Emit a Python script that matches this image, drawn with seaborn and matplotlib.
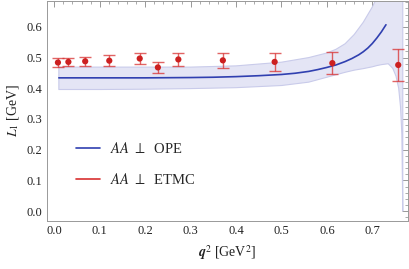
import numpy as np
import pandas as pd
import matplotlib
matplotlib.use("Agg")
import matplotlib.pyplot as plt
import seaborn as sns
from matplotlib.ticker import MultipleLocator, FormatStrFormatter

# ETMC lattice points
q2_etmc = [0.008, 0.031, 0.068, 0.121, 0.188, 0.228, 0.273, 0.371, 0.485, 0.612, 0.757]
l1_etmc = [0.484, 0.486, 0.488, 0.490, 0.497, 0.468, 0.494, 0.491, 0.486, 0.482, 0.476]
err_etmc = [0.014, 0.014, 0.015, 0.018, 0.018, 0.018, 0.020, 0.024, 0.029, 0.037, 0.051]

# OPE central curve
q2_ope = [0.01, 0.1, 0.2, 0.3, 0.35, 0.4, 0.45, 0.5, 0.53, 0.56, 0.58, 0.6, 0.62, 0.64,
          0.655, 0.67, 0.68, 0.69, 0.70, 0.71, 0.72, 0.73]
l1_ope = [0.434, 0.434, 0.434, 0.435, 0.436, 0.438, 0.441, 0.445, 0.449, 0.455, 0.461,
          0.468, 0.476, 0.487, 0.497, 0.509, 0.519, 0.531, 0.546, 0.564, 0.584, 0.607]

# OPE uncertainty band
q2_band = [0.01, 0.1, 0.2, 0.3, 0.4, 0.5, 0.56, 0.6, 0.62, 0.64, 0.66, 0.68, 0.70,
           0.71, 0.72, 0.735, 0.745, 0.752, 0.758, 0.762, 0.765, 0.767]
band_hi = [0.469, 0.469, 0.469, 0.469, 0.473, 0.485, 0.500, 0.515, 0.527, 0.545, 0.575,
           0.615, 0.665, 0.695, 0.73, 0.80, 0.88, 0.95, 1.0, 1.0, 1.0, 1.0]
band_lo = [0.396, 0.396, 0.397, 0.399, 0.402, 0.409, 0.420, 0.436, 0.444, 0.452, 0.459,
           0.464, 0.470, 0.474, 0.477, 0.480, 0.465, 0.440, 0.400, 0.340, 0.250, 0.0]

sns.set_style("white")
plt.rcParams["font.family"] = ["Liberation Serif", "DejaVu Serif"]
plt.rcParams["mathtext.fontset"] = "stix"

fig, ax = plt.subplots(figsize=(4.09, 2.69), dpi=100)
fig.subplots_adjust(left=0.115, right=0.997, bottom=0.18, top=0.997)

ax.fill_between(q2_band, band_lo, band_hi, color="#e4e5f5", edgecolor="#c9cbea",
                linewidth=0.8, zorder=1)

ope = pd.DataFrame({"q2": q2_ope, "L1": l1_ope})
sns.lineplot(data=ope, x="q2", y="L1", color="#3040b0", lw=1.2, ax=ax, zorder=3,
             label=r"$AA\ \perp$  OPE")

ax.errorbar(q2_etmc, l1_etmc, yerr=err_etmc, fmt="none", ecolor="#d83030", alpha=0.75,
            elinewidth=1.0, capsize=4, capthick=1.0, zorder=4)
etmc = pd.DataFrame({"q2": q2_etmc, "L1": l1_etmc})
sns.scatterplot(data=etmc, x="q2", y="L1", color="#cc2020", s=20, edgecolor="none",
                ax=ax, zorder=5)
ax.plot([], [], color="#d83030", lw=1.2, label=r"$AA\ \perp$  ETMC")

ax.set_xlim(-0.016, 0.778)
ax.set_ylim(-0.031, 0.685)
ax.xaxis.set_major_locator(MultipleLocator(0.1))
ax.xaxis.set_minor_locator(MultipleLocator(0.02))
ax.yaxis.set_major_locator(MultipleLocator(0.1))
ax.yaxis.set_minor_locator(MultipleLocator(0.02))
ax.xaxis.set_major_formatter(FormatStrFormatter("%.1f"))
ax.yaxis.set_major_formatter(FormatStrFormatter("%.1f"))
ax.tick_params(which="both", direction="in", top=True, right=True, colors="#888888",
               labelcolor="#222222", labelsize=9)
ax.tick_params(which="major", length=4, width=0.6)
ax.tick_params(which="minor", length=2, width=0.5)
for s in ax.spines.values():
    s.set_color("#999999")
    s.set_linewidth(0.7)

ax.set_xlabel(r"$\boldsymbol{q}^2$ [GeV$^2$]", fontsize=10, color="#222222")
ax.set_ylabel(r"$L_1$ [GeV]", fontsize=10, color="#222222")

ax.legend(loc="upper left", bbox_to_anchor=(0.045, 0.42), frameon=False, fontsize=10.5,
          handlelength=1.6, labelspacing=1.1, handletextpad=0.7)

fig.savefig("out.png", dpi=100)
